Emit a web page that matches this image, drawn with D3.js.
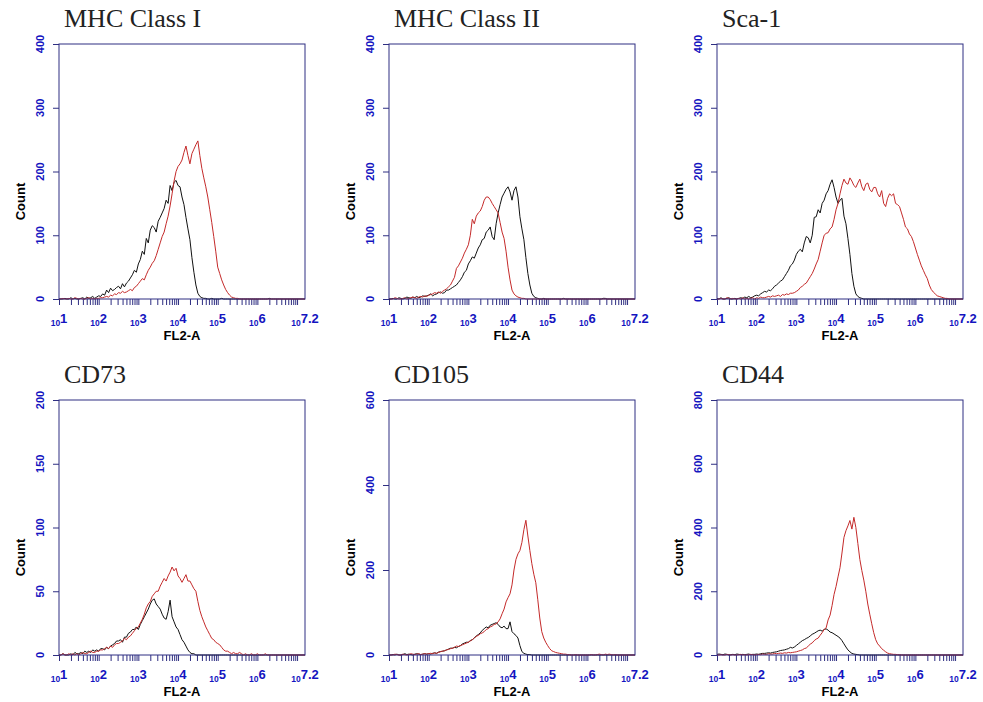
<!DOCTYPE html>
<html>
<head>
<meta charset="utf-8">
<script src="https://cdn.jsdelivr.net/npm/d3@7"></script>
<style>
  html, body { margin: 0; padding: 0; background: #fff; }
  svg { display: block; }
</style>
</head>
<body>
<svg id="chart" width="983" height="702"></svg>
<script>
// Flow cytometry histograms (FL2-A), isotype control (black) vs. marker stain (red).
// Counts are per channel; channels are spaced every 0.05 decade from 10^1 to 10^7.2
// (20 channels per decade, one row per decade below).

const panelTitles = ["MHC Class I", "MHC Class II", "Sca-1", "CD73", "CD105", "CD44"];
const yMaxima = [400, 400, 400, 200, 600, 800];
const yTickSets = [
  [0, 100, 200, 300, 400],
  [0, 100, 200, 300, 400],
  [0, 100, 200, 300, 400],
  [0, 50, 100, 150, 200],
  [0, 200, 400, 600],
  [0, 200, 400, 600, 800]
];
const xTickExponents = ["1", "2", "3", "4", "5", "6", "7.2"];
const xLabel = "FL2-A";
const yLabel = "Count";

const mhc1Control = [
  0,0,0,1,0,0,2,0,1,0, 0,1,2,0,3,1,2,4,1,3,
  5,4,8,6,14,10,17,13,15,18, 20,16,24,19,25,28,33,38,45,42,
  55,62,75,70,95,88,108,115,112,105, 122,128,135,142,155,150,178,170,183,186,
  178,176,160,148,128,110,93,65,42,22, 9,4,2,1,1,0,0,1,0,0,
  0,0,1,0,0,0,0,0,0,0, 0,0,0,0,0,0,0,0,0,0,
  0,0,0,0,0,0,1,0,0,0, 0,0,0,0,0,0,0,0,0,0,
  0,0,0,0,0];
const mhc1Stain = [
  0,0,1,0,0,1,0,0,2,1, 0,1,0,0,1,2,0,1,0,1,
  1,2,2,3,4,3,6,5,8,7, 10,9,12,10,11,13,15,13,18,20,
  24,28,32,30,38,45,50,56,60,68, 78,88,98,105,118,130,146,165,185,200,
  208,212,218,230,240,225,212,228,235,242, 248,225,205,190,176,160,140,120,98,75,
  50,40,30,22,15,10,6,3,2,1, 1,0,0,0,0,0,0,0,0,0,
  0,0,0,0,0,0,0,0,0,0, 0,0,0,0,0,0,0,0,0,0,
  0,0,0,0,0];
const mhc2Control = [
  0,0,1,0,0,2,1,0,1,3, 2,1,3,2,4,2,3,5,4,5,
  6,8,5,7,8,10,11,9,10,14, 14,16,18,20,22,26,30,35,42,45,
  55,60,66,64,72,80,85,93,95,105, 108,113,98,93,118,135,148,160,166,172,
  176,168,155,170,176,160,129,110,93,65, 40,22,9,4,2,1,0,0,1,0,
  0,0,0,0,0,0,0,0,1,0, 0,0,0,0,0,0,0,0,0,0,
  0,0,0,0,0,0,0,0,1,1, 0,0,0,0,0,0,0,0,0,0,
  0,0,0,0,0];
const mhc2Stain = [
  1,0,0,2,1,0,0,1,2,0, 1,2,3,2,1,3,4,3,5,4,
  6,7,8,10,9,11,9,12,14,16, 19,22,28,34,48,52,58,64,72,78,
  85,100,125,118,130,135,138,145,155,160, 160,156,150,145,140,135,120,105,95,75,
  50,30,14,8,5,3,2,1,1,0, 0,0,0,0,0,0,0,0,0,0,
  0,0,0,0,0,0,0,0,0,0, 0,0,0,0,0,0,0,0,0,0,
  0,0,0,0,0,0,0,0,0,0, 0,0,0,0,0,0,0,0,0,0,
  0,0,0,0,0];
const sca1Control = [
  1,0,2,0,0,1,2,0,0,1, 0,1,2,1,3,2,4,2,3,5,
  6,5,8,10,12,11,14,13,16,20, 22,25,28,30,35,40,45,52,55,61,
  70,75,78,74,88,98,96,88,100,128, 129,140,135,150,155,165,170,180,187,175,
  160,150,155,158,130,118,95,70,40,20, 8,4,2,1,0,0,0,0,0,0,
  0,0,0,0,0,0,0,0,0,0, 0,0,0,0,0,0,0,0,0,0,
  0,0,0,0,0,0,0,0,0,0, 0,0,0,0,0,0,0,0,0,0,
  0,0,0,0,0];
const sca1Stain = [
  0,0,1,0,0,2,1,0,1,0, 0,1,0,2,0,1,0,1,2,0,
  2,1,3,2,2,3,4,3,5,4, 5,6,4,7,6,8,7,9,9,10,
  12,14,18,20,23,25,30,35,40,47, 55,62,75,88,100,103,104,110,113,125,
  140,150,165,178,188,182,180,190,185,178, 175,182,188,176,170,180,182,172,168,175,
  175,165,160,170,150,145,158,165,162,165, 150,148,145,135,125,113,110,102,98,90,
  80,70,61,52,45,38,32,22,15,11, 8,5,4,3,2,1,1,0,0,0,
  0,0,0,0,0];
const cd73Control = [
  0,0,1,0,0,0,1,0,2,1, 1,2,1,3,2,3,2,4,3,4,
  3,5,5,4,6,5,7,8,9,11, 11,12,10,14,14,17,18,20,20,22,
  20,24,27,30,33,36,40,43,44,40, 38,36,32,29,28,34,43,30,26,22,
  20,16,12,10,7,4,2,1,1,0, 0,0,0,0,0,0,0,0,0,0,
  0,0,0,0,0,0,0,0,0,0, 0,0,0,0,0,0,0,0,0,0,
  0,0,0,0,0,0,0,0,0,0, 0,0,0,0,0,0,0,0,0,0,
  0,0,0,0,0];
const cd73Stain = [
  0,0,1,0,0,1,0,1,0,1, 0,1,2,1,1,2,3,2,2,3,
  3,4,4,5,6,5,7,6,8,9, 9,10,11,13,12,14,15,17,19,21,
  22,25,28,32,37,40,42,46,48,50, 50,54,57,60,58,62,65,69,66,68,
  62,60,57,60,63,58,58,55,52,50, 42,35,30,26,22,19,16,13,12,10,
  9,8,6,4,3,3,2,1,2,1, 1,2,1,0,1,0,0,1,0,0,
  1,0,0,0,1,0,0,0,0,0, 0,0,0,0,0,0,0,0,0,0,
  0,0,0,0,0];
const cd105Control = [
  0,0,1,0,2,0,0,1,3,1, 2,1,0,2,3,2,1,2,3,2,
  3,2,4,5,4,7,8,9,10,12, 14,16,16,18,17,20,22,26,28,30,
  30,34,36,40,45,48,52,58,62,66, 64,70,72,74,76,72,66,64,68,62,
  62,78,55,50,46,40,22,8,4,2, 1,1,0,0,0,0,0,0,0,0,
  0,0,0,0,0,0,0,0,0,0, 0,0,0,0,0,0,0,0,0,0,
  0,0,0,0,0,0,0,0,0,0, 0,0,0,0,0,0,0,0,0,0,
  0,0,0,0,0];
const cd105Stain = [
  1,0,0,2,1,0,0,2,1,0, 1,3,2,1,2,3,1,2,3,2,
  3,4,3,5,4,6,8,9,10,12, 13,15,16,18,21,20,22,24,26,28,
  30,33,36,40,44,46,50,52,55,60, 62,66,68,72,73,78,85,97,108,125,
  135,144,165,200,225,238,246,265,295,317, 280,246,215,190,170,130,87,55,40,30,
  22,15,10,8,6,5,4,3,2,2, 1,1,0,0,1,0,0,0,0,0,
  0,0,1,0,0,1,2,1,0,2, 1,2,1,0,1,0,0,0,0,0,
  0,0,0,0,0];
const cd44Control = [
  2,3,2,1,3,2,0,1,2,1, 3,2,1,2,1,2,3,1,2,2,
  3,2,4,5,5,6,7,6,8,9, 10,12,14,15,16,18,20,24,22,25,
  30,35,40,45,48,52,55,60,65,68, 72,76,78,75,80,82,78,72,70,66,
  62,58,53,45,35,25,16,10,5,3, 2,1,0,0,0,0,0,0,0,0,
  0,0,0,0,0,0,0,0,0,0, 0,0,0,0,0,0,0,0,0,0,
  0,0,0,0,0,0,0,0,0,0, 0,0,0,0,0,0,0,0,0,0,
  0,0,0,0,0];
const cd44Stain = [
  0,0,1,0,0,2,1,0,1,0, 0,1,2,0,1,0,1,2,1,0,
  1,2,1,3,2,2,4,3,3,5, 4,5,6,5,7,6,8,7,8,9,
  10,12,14,16,20,22,28,34,38,45, 50,53,62,70,80,85,110,125,155,190,
  215,245,274,320,369,390,405,422,395,432, 400,350,300,265,235,200,160,128,98,70,
  48,35,28,20,15,10,6,4,3,2, 2,1,1,0,0,0,0,0,0,0,
  0,0,0,0,0,0,0,0,0,0, 0,0,0,0,0,0,0,0,0,0,
  0,0,0,0,0];

const controlSeries = [mhc1Control, mhc2Control, sca1Control, cd73Control, cd105Control, cd44Control];
const stainSeries   = [mhc1Stain, mhc2Stain, sca1Stain, cd73Stain, cd105Stain, cd44Stain];

// channel centres: 10^1.00, 10^1.05, ... 10^7.20
const channels = d3.range(125).map(i => Math.pow(10, 1 + i * 0.05));

// ---- layout ----
const colLeft = [59, 389, 717];
const rowTop = [44, 400];
const plotW = 246;
const plotH = 255;

const frameColor = "#2e2e82";
const tickLabelColor = "#1414c0";
const stainColor = "#c42a2a";
const controlColor = "#111111";
const sansFont = "'Liberation Sans', Arial, sans-serif";

const svg = d3.select("#chart");

panelTitles.forEach((title, p) => {
  const left = colLeft[p % 3];
  const top = rowTop[Math.floor(p / 3)];
  const g = svg.append("g").attr("transform", `translate(${left},${top})`);

  const x = d3.scaleLog().domain([10, Math.pow(10, 7.2)]).range([0, plotW]);
  const y = d3.scaleLinear().domain([0, yMaxima[p]]).range([plotH, 0]);

  // panel title
  g.append("text")
    .attr("x", 5).attr("y", -17)
    .attr("font-family", "'Liberation Serif', 'Times New Roman', serif")
    .attr("font-size", 26)
    .attr("fill", "#222")
    .text(title);

  // log ticks (1..9 per decade) hanging below the axis
  const xAxis = d3.axisBottom(x)
    .tickValues(x.ticks().filter(v => v >= 10 && v <= Math.pow(10, 7.2)))
    .tickSize(6)
    .tickFormat("");
  const xa = g.append("g").attr("transform", `translate(0,${plotH})`).call(xAxis);
  xa.select(".domain").remove();
  xa.selectAll(".tick line").attr("stroke", frameColor).attr("stroke-width", 1);

  // decade labels: small "10" with a raised exponent, centred on the tick
  xTickExponents.forEach(e => {
    const t = g.append("text")
      .attr("x", x(Math.pow(10, +e)))
      .attr("y", plotH + 27)
      .attr("text-anchor", "middle")
      .attr("font-family", sansFont)
      .attr("font-weight", "bold")
      .attr("fill", tickLabelColor);
    t.append("tspan").attr("font-size", 8.5).text("10");
    t.append("tspan").attr("font-size", 13).attr("dy", -3).text(e);
  });

  // y ticks and rotated labels
  const yAxis = d3.axisLeft(y).tickValues(yTickSets[p]).tickSize(6).tickFormat("");
  const ya = g.append("g").call(yAxis);
  ya.select(".domain").remove();
  ya.selectAll(".tick line").attr("stroke", frameColor);
  yTickSets[p].forEach(v => {
    g.append("text")
      .attr("transform", `translate(-15,${y(v)}) rotate(-90)`)
      .attr("text-anchor", "middle")
      .attr("font-family", sansFont)
      .attr("font-weight", "bold")
      .attr("font-size", 11)
      .attr("fill", tickLabelColor)
      .text(v);
  });

  // axis titles
  g.append("text")
    .attr("x", plotW / 2).attr("y", plotH + 41)
    .attr("text-anchor", "middle")
    .attr("font-family", sansFont)
    .attr("font-weight", "bold")
    .attr("font-size", 13)
    .attr("fill", "#000")
    .text(xLabel);
  g.append("text")
    .attr("transform", `translate(-34,${plotH / 2 + 30}) rotate(-90)`)
    .attr("text-anchor", "middle")
    .attr("font-family", sansFont)
    .attr("font-weight", "bold")
    .attr("font-size", 13)
    .attr("fill", "#000")
    .text(yLabel);

  // histogram traces
  const line = d3.line()
    .x((d, i) => x(channels[i]))
    .y(d => y(d));

  g.append("path")
    .datum(controlSeries[p])
    .attr("d", line)
    .attr("fill", "none")
    .attr("stroke", controlColor)
    .attr("stroke-width", 1);
  g.append("path")
    .datum(stainSeries[p])
    .attr("d", line)
    .attr("fill", "none")
    .attr("stroke", stainColor)
    .attr("stroke-width", 1);

  // plot frame
  g.append("rect")
    .attr("x", 0).attr("y", 0)
    .attr("width", plotW).attr("height", plotH)
    .attr("fill", "none")
    .attr("stroke", frameColor)
    .attr("stroke-width", 1);
});
</script>
</body>
</html>
